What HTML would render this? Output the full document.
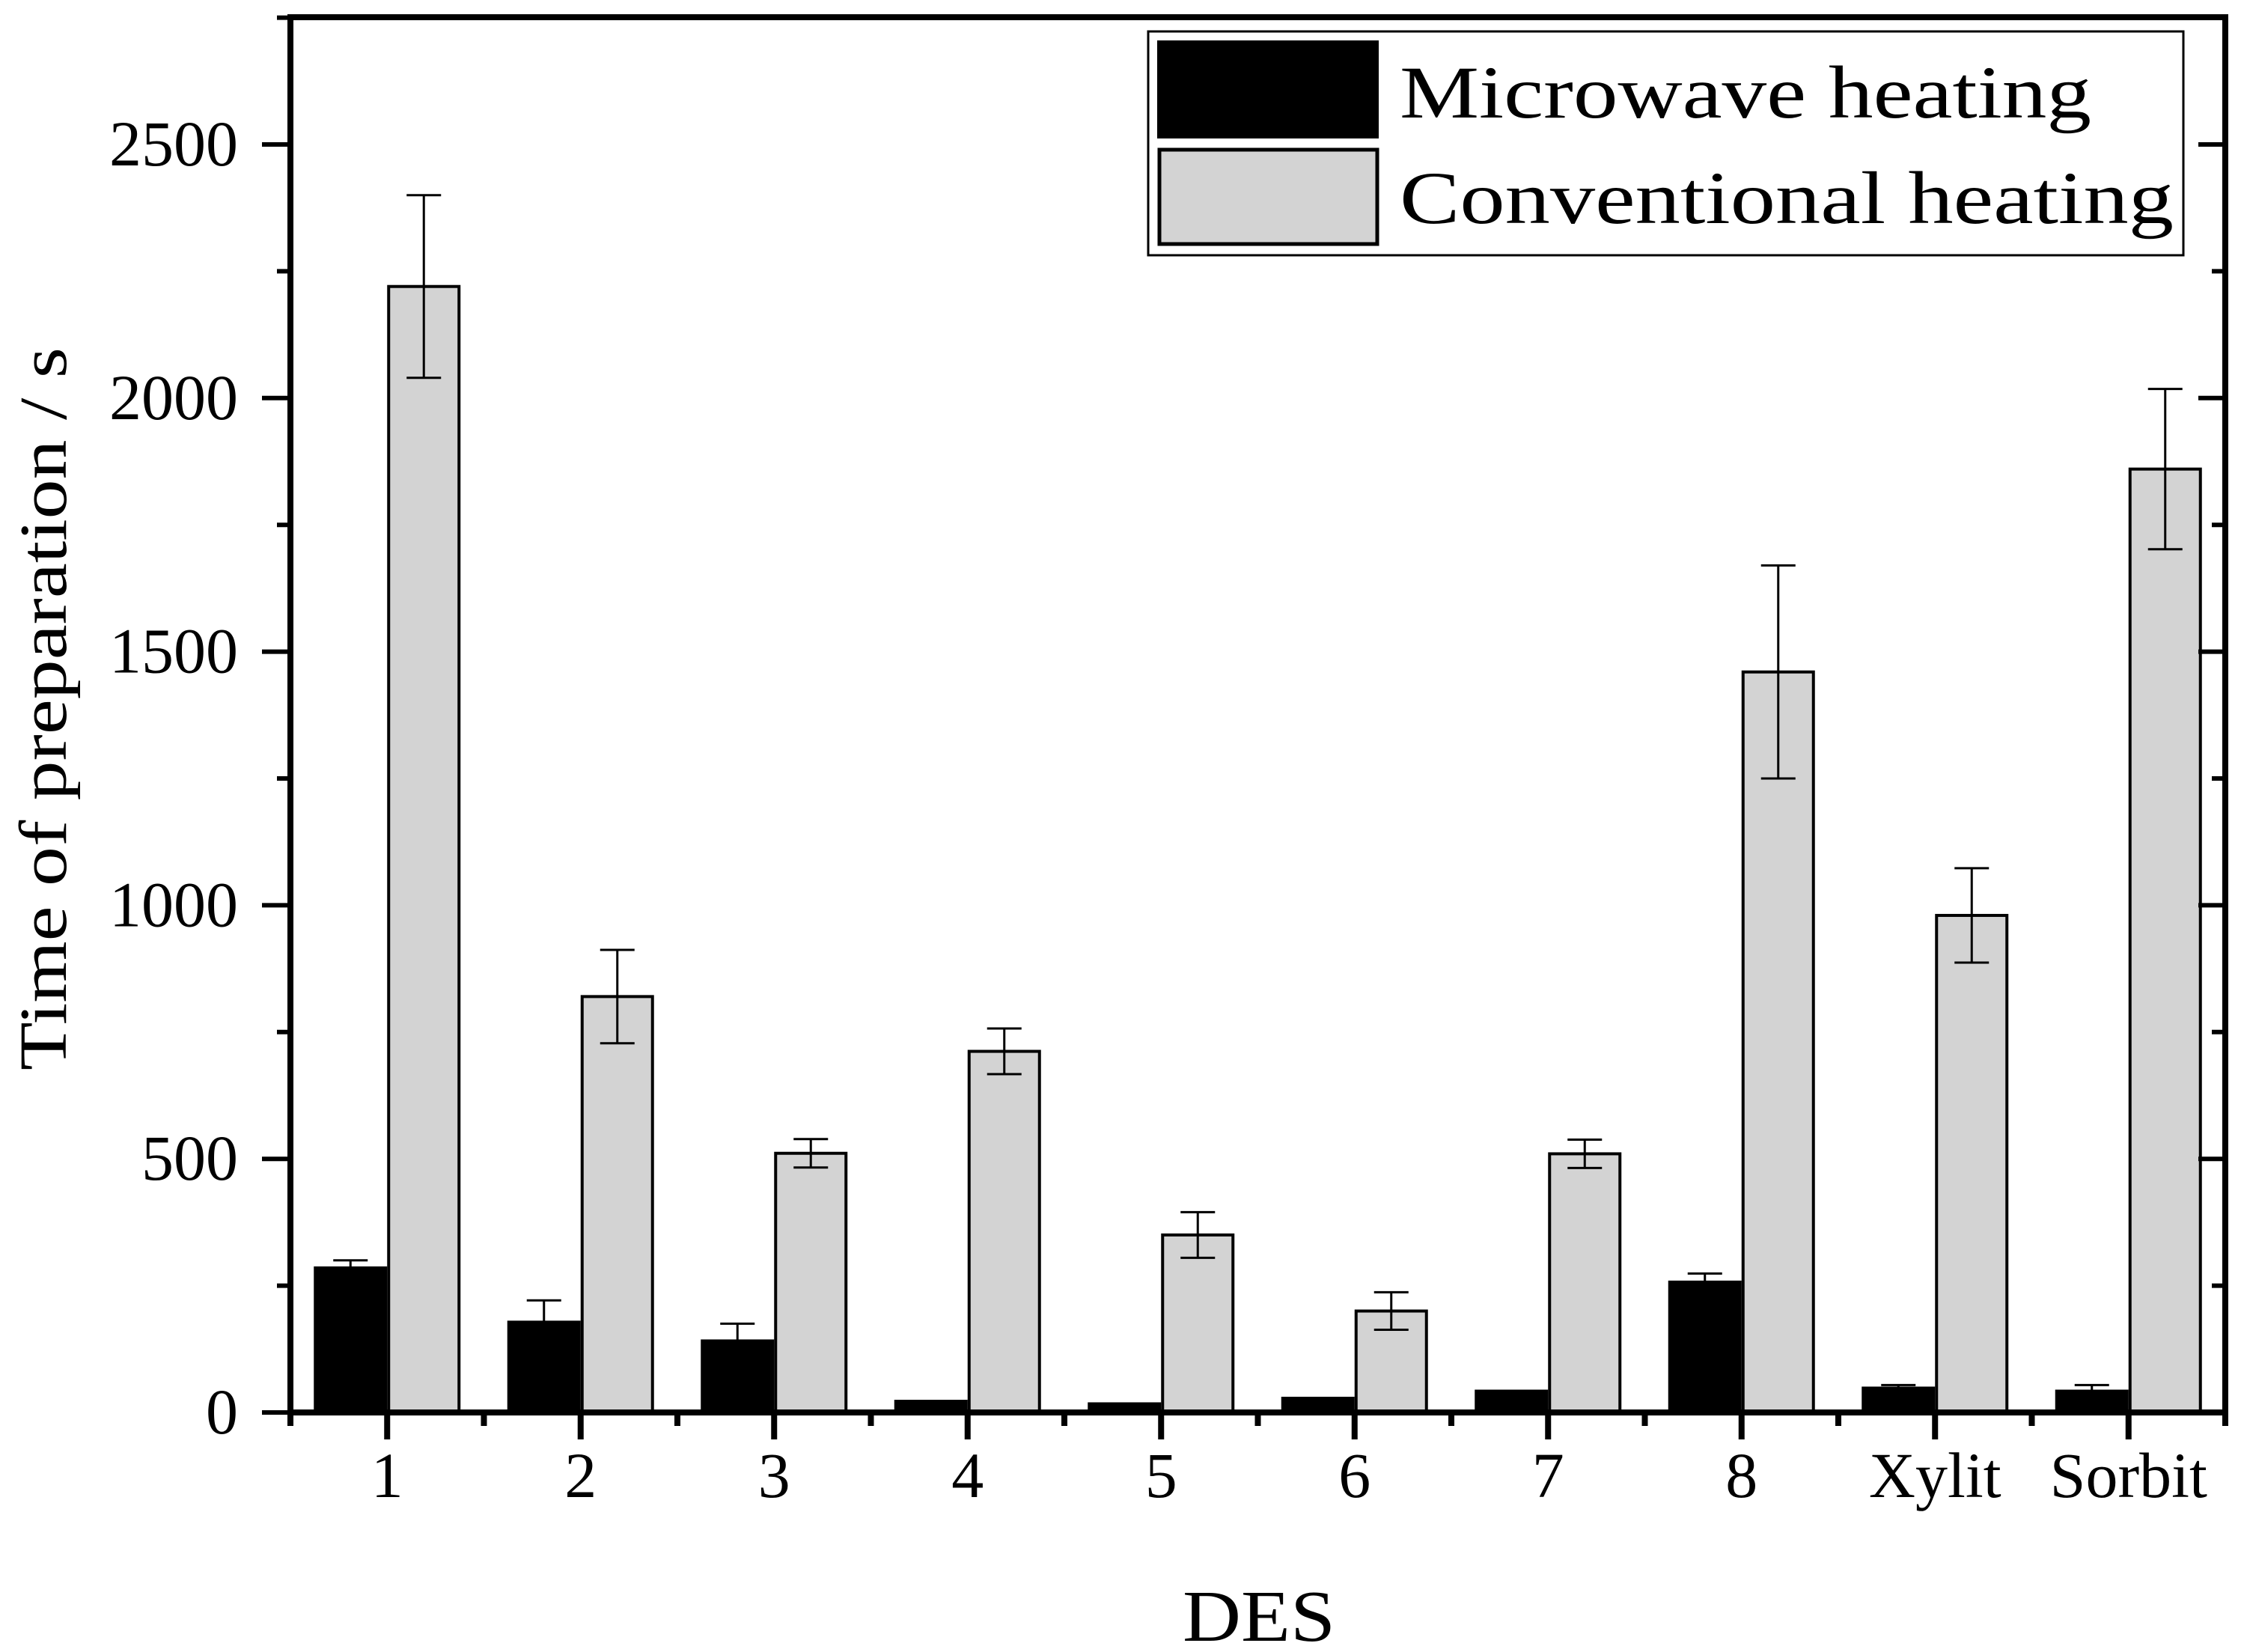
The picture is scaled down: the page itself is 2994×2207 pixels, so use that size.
<!DOCTYPE html>
<html><head><meta charset="utf-8"><style>html,body{margin:0;padding:0;background:#fff}svg{display:block}text{font-family:"Liberation Serif",serif;fill:#000}</style></head>
<body>
<svg id="chart" width="2994" height="2207" viewBox="0 0 2994 2207" xmlns="http://www.w3.org/2000/svg">
<rect width="2994" height="2207" fill="#fff"/>
<g id="marks"></g>
<g id="axes"></g>
<g>
<rect x="1534" y="42" width="1383" height="299" fill="#fff" stroke="#000" stroke-width="3"/>
<rect x="1546" y="54" width="296" height="131" fill="#000"/>
<text x="1870" y="157" font-size="100" textLength="924" lengthAdjust="spacingAndGlyphs">Microwave heating</text>
<rect x="1549" y="200" width="291" height="126" fill="#d3d3d3" stroke="#000" stroke-width="5"/>
<text x="1870" y="298" font-size="100" textLength="1034" lengthAdjust="spacingAndGlyphs">Conventional heating</text>
</g>
<text x="1682" y="2192" font-size="98" text-anchor="middle" textLength="204" lengthAdjust="spacingAndGlyphs">DES</text>
<text transform="translate(88,947) rotate(-90)" x="0" y="0" font-size="90" text-anchor="middle" textLength="966" lengthAdjust="spacingAndGlyphs">Time of preparation / s</text>
</svg>
<script>
const categories = ["1","2","3","4","5","6","7","8","Xylit","Sorbit"];
const microwave = [288,181,144,25,20,31,45,260,51,45];
const microwaveErr = [12,40,31,0,0,0,0,14,3,9];
const conventional = [2220,820,511,712,350,200,510,1460,980,1860];
const conventionalErr = [180,92,28,45,45,37,28,210,93,158];
const yTicks = [0,500,1000,1500,2000,2500];

const NS = "http://www.w3.org/2000/svg";
const X0 = 388, X1 = 2973, Y0 = 1887, YT = 23;
const yMax = 2500, yMaxPx = 193;
function y(v){ return Y0 - v * (Y0 - yMaxPx) / yMax; }
function x(i){ return X0 + (i + 0.5) * (X1 - X0) / categories.length; }
function mk(tag, attrs, parent){ const e = document.createElementNS(NS, tag); for (const k in attrs) e.setAttribute(k, attrs[k]); parent.appendChild(e); return e; }
const marks = document.getElementById('marks');
const axes = document.getElementById('axes');
const BW = 98;
categories.forEach((c, i) => {
  const cx = x(i);
  let r = mk('rect', {x: cx - BW, y: y(microwave[i]), width: BW, height: Y0 - y(microwave[i]), fill: '#000'}, marks);
  
  
  let r2 = mk('rect', {x: cx + 2, y: y(conventional[i]), width: BW - 4, height: Y0 - y(conventional[i]), fill: '#d3d3d3', stroke: '#000', 'stroke-width': 4}, marks);
  
  
  [[cx - BW / 2, microwave[i], microwaveErr[i]], [cx + BW / 2, conventional[i], conventionalErr[i]]].forEach(([ex, v, e]) => {
    if (!e) return;
    const g = mk('g', {stroke: '#000', 'stroke-width': 3}, marks);
    
    
    mk('line', {x1: ex, x2: ex, y1: y(v + e), y2: y(v - e)}, g);
    mk('line', {x1: ex - 23, x2: ex + 23, y1: y(v + e), y2: y(v + e)}, g);
    mk('line', {x1: ex - 23, x2: ex + 23, y1: y(v - e), y2: y(v - e)}, g);
  });
  const t = mk('text', {x: cx, y: 2000, 'font-size': 86, 'text-anchor': 'middle'}, axes);
  t.textContent = c;
  
  
  mk('line', {x1: cx, x2: cx, y1: Y0, y2: Y0 + 36, stroke: '#000', 'stroke-width': 8}, axes);
});
for (let i = 0; i <= categories.length; i++) {
  const mx = X0 + i * (X1 - X0) / categories.length;
  mk('line', {x1: mx, x2: mx, y1: Y0, y2: Y0 + 18, stroke: '#000', 'stroke-width': 8}, axes);
}
yTicks.forEach(v => {
  mk('line', {x1: X0 - 38, x2: X0, y1: y(v), y2: y(v), stroke: '#000', 'stroke-width': 6}, axes);
  mk('line', {x1: X1 - 36, x2: X1, y1: y(v), y2: y(v), stroke: '#000', 'stroke-width': 6}, axes);
  const m = v + 250;
  if (y(m) > YT) {
    mk('line', {x1: X0 - 18, x2: X0, y1: y(m), y2: y(m), stroke: '#000', 'stroke-width': 6}, axes);
    mk('line', {x1: X1 - 18, x2: X1, y1: y(m), y2: y(m), stroke: '#000', 'stroke-width': 6}, axes);
  }
  const t = mk('text', {x: 318, y: y(v) + 28, 'font-size': 86, 'text-anchor': 'end'}, axes);
  t.textContent = v;
  
  
});
const frame = mk('rect', {x: X0, y: YT, width: X1 - X0, height: Y0 - YT, fill: 'none', stroke: '#000', 'stroke-width': 8}, axes);


</script>
</body></html>
